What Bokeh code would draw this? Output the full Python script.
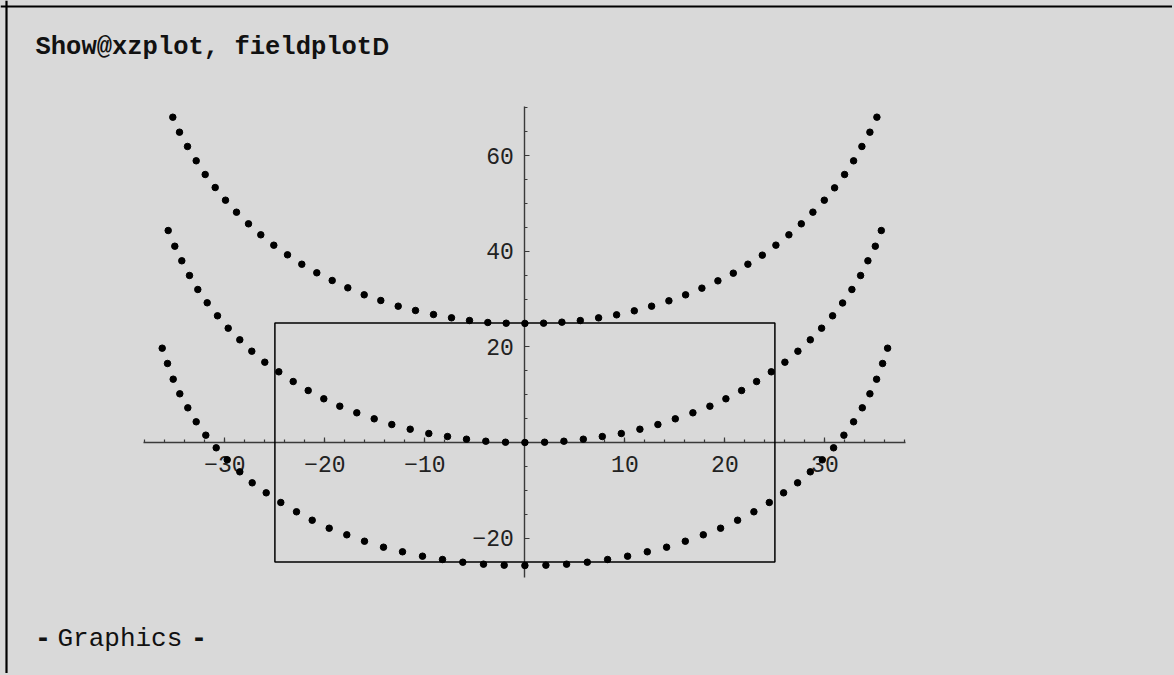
from bokeh.plotting import figure
from bokeh.models import Label, Span, FixedTicker, Range1d, GlobalInlineStyleSheet
from bokeh.embed import file_html
from bokeh.resources import INLINE

# ---------------- data ----------------
top_x = [-35.21, -34.54, -33.74, -32.87, -31.97, -30.97, -29.94, -28.84, -27.64, -26.41,
         -25.11, -23.74, -22.31, -20.81, -19.27, -17.71, -16.07, -14.41, -12.67, -10.94,
         -9.14, -7.34, -5.54, -3.71, -1.87, 0.0,
         1.87, 3.70, 5.54, 7.37, 9.17, 10.94, 12.67, 14.40, 16.07, 17.70,
         19.30, 20.84, 22.30, 23.74, 25.10, 26.40, 27.64, 28.80, 29.94, 30.97,
         31.97, 32.87, 33.70, 34.50, 35.20]
top_z = [68.01, 64.88, 61.89, 58.90, 56.03, 53.31, 50.66, 48.15, 45.72, 43.42,
         41.25, 39.24, 37.27, 35.48, 33.87, 32.34, 30.88, 29.69, 28.50, 27.60,
         26.76, 26.07, 25.51, 25.09, 24.94, 24.90,
         24.95, 25.16, 25.50, 26.06, 26.69, 27.53, 28.50, 29.62, 30.87, 32.27,
         33.80, 35.40, 37.28, 39.17, 41.26, 43.42, 45.72, 48.16, 50.66, 53.24,
         56.03, 58.89, 61.89, 64.88, 68.02]

mid_x = [-35.67, -35.01, -34.31, -33.54, -32.71, -31.77, -30.74, -29.67, -28.51, -27.31,
         -26.01, -24.61, -23.17, -21.67, -20.11, -18.51, -16.81, -15.07, -13.31, -11.47,
         -9.61, -7.74, -5.84, -3.91, -1.94, 0.0,
         1.97, 3.90, 5.84, 7.74, 9.64, 11.50, 13.30, 15.04, 16.80, 18.50,
         20.10, 21.67, 23.17, 24.64, 26.00, 27.30, 28.54, 29.67, 30.77, 31.77,
         32.70, 33.57, 34.30, 35.04, 35.64]
mid_z = [44.32, 41.04, 37.99, 34.92, 31.99, 29.21, 26.49, 23.90, 21.47, 19.09,
         16.79, 14.78, 12.75, 10.87, 9.14, 7.59, 6.21, 4.95, 3.76, 2.78,
         1.88, 1.25, 0.69, 0.27, 0.06, 0.0,
         0.06, 0.27, 0.69, 1.25, 1.88, 2.78, 3.76, 4.95, 6.21, 7.59,
         9.14, 10.87, 12.75, 14.78, 16.79, 19.09, 21.47, 23.90, 26.49, 29.17,
         31.99, 34.91, 37.99, 41.04, 44.32]

bot_x = [-36.27, -35.74, -35.17, -34.51, -33.71, -32.87, -31.91, -30.87, -29.77, -28.51,
         -27.27, -25.87, -24.41, -22.84, -21.27, -19.57, -17.81, -16.04, -14.14, -12.24,
         -10.24, -8.24, -6.21, -4.14, -2.07, 0.0,
         2.10, 4.17, 6.24, 8.27, 10.27, 12.24, 14.17, 16.04, 17.84, 19.57,
         21.27, 22.90, 24.44, 25.87, 27.27, 28.54, 29.74, 30.87, 31.90, 32.87,
         33.74, 34.50, 35.17, 35.77, 36.27]
bot_z = [19.72, 16.52, 13.24, 10.18, 7.25, 4.33, 1.53, -1.11, -3.62, -6.13,
         -8.43, -10.52, -12.54, -14.49, -16.25, -17.92, -19.30, -20.64, -21.89, -22.85,
         -23.77, -24.46, -25.03, -25.44, -25.65, -25.72,
         -25.65, -25.44, -25.03, -24.46, -23.77, -22.85, -21.89, -20.64, -19.30, -17.92,
         -16.25, -14.49, -12.54, -10.52, -8.43, -6.13, -3.62, -1.11, 1.53, 4.33,
         7.25, 10.18, 13.23, 16.52, 19.72]

box_x = [-25, 25]
box_z = [-25, 25]

x_major = [-30, -20, -10, 10, 20, 30]
x_minor = list(range(-38, 39, 2))
y_major = [-20, 20, 40, 60]
y_minor = list(range(-25, 71, 5))
x_axis_bounds = (-38.1, 38.1)
y_axis_bounds = (-28.2, 70.2)

title_text = "Show@xzplot, fieldplot"
title_tail = "D"
footer_text = "Graphics"

# ---------------- layout / style ----------------
BG = "#d9d9d9"
AX = "#3a3a3a"
W, H, OFF = 1172, 673, 0
X0, XS = 524.4, 10.0      # page px of x=0, px per unit
Y0, YS = 442.0, 4.783     # page px of z=0, px per unit


def dx(px):
    return (px - X0) / XS


def dy(py):
    return (Y0 - py) / YS


p = figure(width=W, height=H,
           x_range=Range1d(dx(OFF), dx(OFF + W)),
           y_range=Range1d(dy(OFF + H), dy(OFF)),
           output_backend="svg", toolbar_location=None, min_border=0,
           background_fill_color=BG, border_fill_color=BG,
           outline_line_color=None)
p.stylesheets = [GlobalInlineStyleSheet(css="html, body { background-color: #d9d9d9; }")]

p.xgrid.visible = False
p.ygrid.visible = False

for ax in (p.xaxis[0], p.yaxis[0]):
    ax.fixed_location = 0
    ax.axis_line_color = AX
    ax.axis_line_width = 1.4
    ax.major_tick_line_color = AX
    ax.minor_tick_line_color = AX
    ax.major_tick_line_width = 1.2
    ax.minor_tick_line_width = 1.2
    ax.major_tick_out = 0
    ax.minor_tick_out = 0
    ax.major_tick_in = 5
    ax.minor_tick_in = 3
    ax.major_label_text_font = "Liberation Mono"
    ax.major_label_text_font_size = "23px"
    ax.major_label_text_color = "#222222"
    ax.level = "underlay"

p.xaxis.bounds = x_axis_bounds
p.yaxis.bounds = y_axis_bounds
p.xaxis.ticker = FixedTicker(ticks=x_major, minor_ticks=x_minor)
p.yaxis.ticker = FixedTicker(ticks=y_major, minor_ticks=y_minor)
p.xaxis.major_label_standoff = 13
p.yaxis.major_label_standoff = 11

p.quad(left=box_x[0], right=box_x[1], bottom=box_z[0], top=box_z[1],
       fill_color=None, line_color="black", line_width=1.5)

for xs, zs in ((top_x, top_z), (mid_x, mid_z), (bot_x, bot_z)):
    p.scatter(xs, zs, size=6.5, color="black")

# notebook cell border (top and left)
p.add_layout(Span(location=dy(6), dimension="width", line_color="black", line_width=2.2))
p.add_layout(Span(location=dx(6), dimension="height", line_color="black", line_width=2.2))


def sy(page_y):
    return H - (page_y - OFF)


p.add_layout(Label(x=35 - OFF, y=sy(47), x_units="screen", y_units="screen",
                   text=title_text, text_font="Liberation Mono", text_font_style="bold",
                   text_font_size="25.5px", text_baseline="middle", text_color="#111111"))
p.add_layout(Label(x=372 - OFF, y=sy(46), x_units="screen", y_units="screen",
                   text=title_tail, text_font="Liberation Sans", text_font_style="bold",
                   text_font_size="23px", text_baseline="middle", text_color="#111111"))

p.add_layout(Label(x=42.5 - OFF, y=sy(636), x_units="screen", y_units="screen",
                   text="-", text_font="Liberation Sans", text_font_style="bold",
                   text_font_size="30px", text_baseline="middle", text_align="center",
                   text_color="#111111"))
p.add_layout(Label(x=57 - OFF, y=sy(638), x_units="screen", y_units="screen",
                   text=footer_text, text_font="Liberation Mono",
                   text_font_size="26px", text_baseline="middle", text_color="#111111"))
p.add_layout(Label(x=198.5 - OFF, y=sy(636), x_units="screen", y_units="screen",
                   text="-", text_font="Liberation Sans", text_font_style="bold",
                   text_font_size="30px", text_baseline="middle", text_align="center",
                   text_color="#111111"))

open("out.html", "w").write(file_html(p, INLINE))
